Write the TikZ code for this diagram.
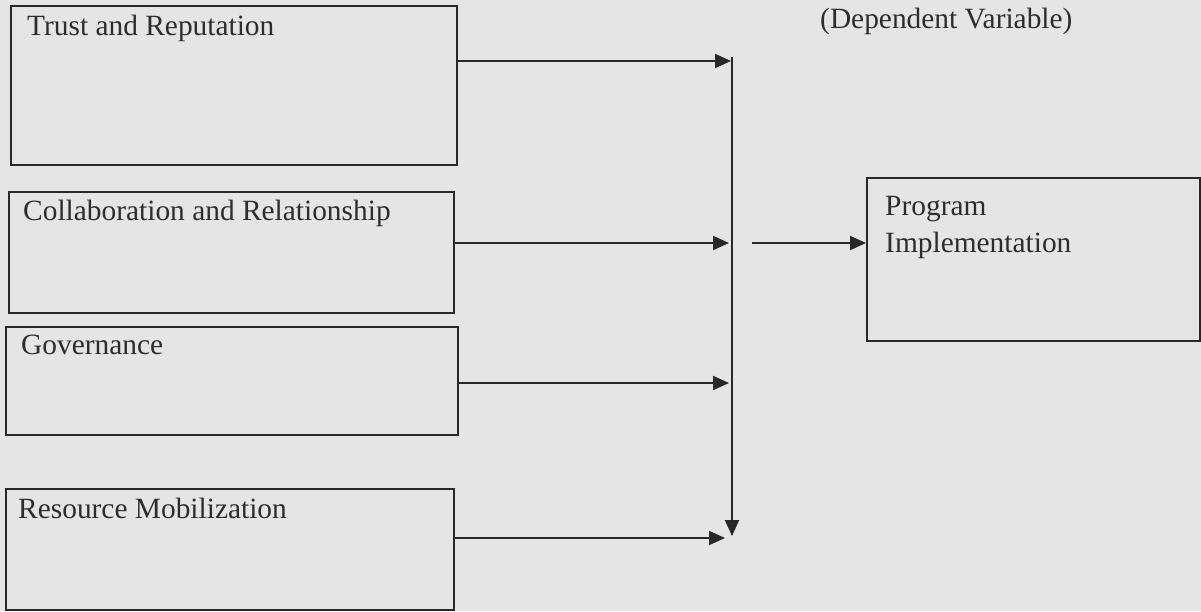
\documentclass[tikz,border=0pt]{standalone}
\usepackage{fontspec}
\setmainfont{Liberation Serif}
\usetikzlibrary{arrows.meta}
\definecolor{paper}{RGB}{229,229,229}
\definecolor{ink}{RGB}{40,40,40}
\definecolor{txt}{RGB}{45,45,45}
\begin{document}
\begin{tikzpicture}[x=1pt,y=-1pt,
  box/.style={draw=ink,line width=1.8pt,rectangle,anchor=north west,inner sep=0pt},
  lbl/.style={anchor=base west,inner sep=0pt,text=txt,font=\fontsize{29.4}{36}\selectfont},
  arr/.style={draw=ink,line width=2pt,-{Triangle[length=16pt,width=14pt]}}]
\fill[paper] (0,0) rectangle (1201,611);
\useasboundingbox (0,0) rectangle (1201,611);
% boxes
\node[box,minimum width=446pt,minimum height=159pt] (b1) at (10,5) {};
\node[box,minimum width=445pt,minimum height=121pt] (b2) at (8,191) {};
\node[box,minimum width=452pt,minimum height=108pt] (b3) at (5,326) {};
\node[box,minimum width=448pt,minimum height=121pt] (b4) at (5,488) {};
\node[box,minimum width=333pt,minimum height=163pt] (pi) at (866,177) {};
% labels
\node[lbl] (t1) at (27,35) {Trust and Reputation};
\node[lbl] (t2) at (23,220) {Collaboration and Relationship};
\node[lbl] (t3) at (21,354) {Governance};
\node[lbl] (t4) at (18,518) {Resource Mobilization};
\node[lbl] (t5) at (885,215) {Program};
\node[lbl] (t6) at (885,252) {Implementation};
\node[lbl] (dv) at (820,28) {(Dependent Variable)};
% connector points
\coordinate (vtop) at (732,57);
\coordinate (vbot) at (732,536);
\coordinate (s5) at (752,243);
% arrows
\draw[arr] (b1.east |- 0,61) -- (731,61);
\draw[arr] (b2.east |- 0,243) -- (729,243);
\draw[arr] (b3.east |- 0,383) -- (729,383);
\draw[arr] (b4.east |- 0,538) -- (725,538);
\draw[arr] (vtop) -- (vbot);
\draw[arr] (s5) -- (pi.west |- s5);
\end{tikzpicture}
\end{document}
